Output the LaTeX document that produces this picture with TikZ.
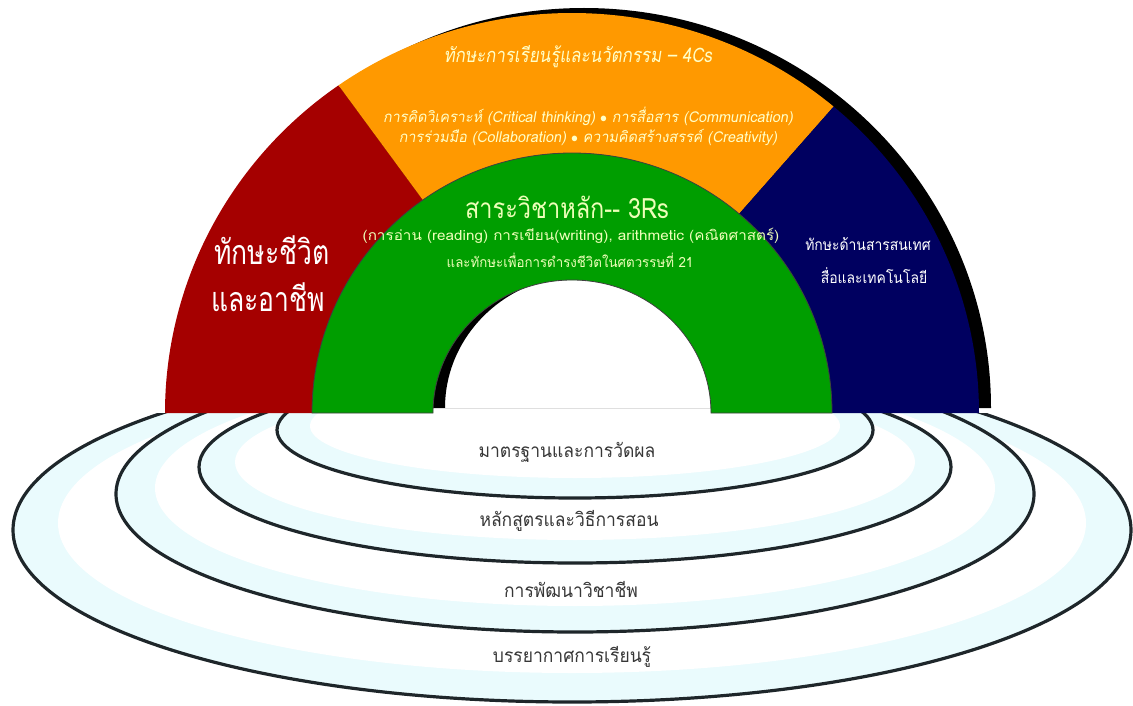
\documentclass[tikz,border=0pt]{standalone}
\usepackage{fontspec}
\usepackage{graphicx}
\usetikzlibrary{calc}
\newfontfamily\thai[Script=Thai]{Loma}
\newfontfamily\thaisl[Script=Thai,FakeSlant=0.18]{Loma}
\definecolor{rred}{RGB}{165,0,0}
\definecolor{rorange}{RGB}{255,153,0}
\definecolor{rgreen}{RGB}{0,158,0}
\definecolor{rnavy}{RGB}{0,0,96}
\definecolor{rcyan}{RGB}{234,251,253}
\definecolor{rline}{RGB}{30,38,42}
\definecolor{ltyel}{RGB}{255,255,200}
\definecolor{grtxt}{RGB}{238,255,185}
\definecolor{ringtxt}{RGB}{55,55,55}
\tikzset{
  band/.style={fill=rcyan},
  bandin/.style={fill=white},
  ringline/.style={draw=rline, line width=3.2pt},
  lbl/.style={inner sep=0pt, anchor=center},
  orgtitle/.style={lbl, text=ltyel, font=\thaisl\fontsize{20}{24}\selectfont},
  orgtext/.style={lbl, text=ltyel, font=\thaisl\fontsize{15}{17}\selectfont},
  grtitle/.style={lbl, text=grtxt, font=\thai\fontsize{28}{33}\selectfont},
  grtext/.style={lbl, text=grtxt, font=\thai\fontsize{14}{16}\selectfont},
  redtext/.style={lbl, text=white, font=\thai\fontsize{34}{40}\selectfont},
  bluetext/.style={lbl, text=white, font=\thai\fontsize{15.5}{18}\selectfont},
  ringtext/.style={lbl, text=ringtxt, font=\thai\fontsize{19}{22}\selectfont}
}
\begin{document}
\begin{tikzpicture}[x=1pt,y=-1pt]
\useasboundingbox (0,0) rectangle (1133,706);
\coordinate (C) at (572,413);
\coordinate (S) at (584,408);
% rings
\begin{scope}
\clip (0,413) rectangle (1133,706);
\fill[band] (572,530) ellipse[x radius=559, y radius=172];
\fill[bandin] (572,523) ellipse[x radius=514, y radius=150];
\draw[ringline] (572,530) ellipse[x radius=559, y radius=172];
\fill[band] (575,494) ellipse[x radius=459, y radius=138];
\fill[bandin] (575,488) ellipse[x radius=420, y radius=118];
\draw[ringline] (575,494) ellipse[x radius=459, y radius=138];
\fill[band] (575,467) ellipse[x radius=376, y radius=96];
\fill[bandin] (575,462) ellipse[x radius=340, y radius=78];
\draw[ringline] (575,467) ellipse[x radius=376, y radius=96];
\fill[band] (575,430) ellipse[x radius=298, y radius=68];
\fill[bandin] (575,426) ellipse[x radius=265, y radius=52];
\draw[ringline] (575,430) ellipse[x radius=298, y radius=68];
\end{scope}
% shadow
\fill[black, even odd rule]
  ($(S)+(180:407 and 400)$) arc[start angle=180, end angle=360, x radius=407, y radius=400] -- cycle
  ($(S)+(0:139 and 133)$) arc[start angle=360, end angle=180, x radius=139, y radius=133] -- cycle;
% sectors
\fill[rred] ($(C)+(180:407 and 400)$) arc[start angle=180, end angle=235, x radius=407, y radius=400]
  -- ($(C)+(235:260)$) arc[start angle=235, end angle=180, radius=260] -- cycle;
\fill[rorange] ($(C)+(235:407 and 400)$) arc[start angle=235, end angle=310, x radius=407, y radius=400]
  -- ($(C)+(310:260)$) arc[start angle=310, end angle=235, radius=260] -- cycle;
\fill[rnavy] ($(C)+(310:407 and 400)$) arc[start angle=310, end angle=360, x radius=407, y radius=400]
  -- ($(C)+(0:260)$) arc[start angle=360, end angle=310, radius=260] -- cycle;
\filldraw[fill=rgreen, draw=black!75, line width=0.8pt] ($(C)+(180:260)$) arc[start angle=180, end angle=360, radius=260]
  -- ($(C)+(0:139 and 133)$) arc[start angle=360, end angle=180, x radius=139, y radius=133] -- cycle;
% texts
\node[orgtitle] (t4c) at (578,57) {\scalebox{0.845}[1]{ทักษะการเรียนรู้และนวัตกรรม – 4Cs}};
\node[orgtext] (c1) at (588,116) {\scalebox{0.96}[1]{การคิดวิเคราะห์ (Critical thinking) $\bullet$ การสื่อสาร (Communication)}};
\node[orgtext] (c2) at (588,138) {\scalebox{0.96}[1]{การร่วมมือ (Collaboration) $\bullet$ ความคิดสร้างสรรค์ (Creativity)}};
\node[grtitle] (g0) at (567,207) {\scalebox{0.84}[1]{สาระวิชาหลัก-{}- 3Rs}};
\node[grtext] (g1) at (571,236) {\scalebox{1.09}[1]{(การอ่าน (reading) การเขียน(writing), arithmetic (คณิตศาสตร์)}};
\node[grtext] (g2) at (570,260) {\scalebox{0.95}[1]{และทักษะเพื่อการดำรงชีวิตในศตวรรษที่ 21}};
\node[redtext] (r1) at (272,250) {\scalebox{0.78}[1]{ทักษะชีวิต}};
\node[redtext] (r2) at (268,297) {\scalebox{0.78}[1]{และอาชีพ}};
\node[bluetext] (b1) at (868,244) {\scalebox{0.9}[1]{ทักษะด้านสารสนเทศ}};
\node[bluetext] (b2) at (874,276) {\scalebox{0.9}[1]{สื่อและเทคโนโลยี}};
\node[ringtext] (k1) at (567,452) {\scalebox{0.92}[1]{มาตรฐานและการวัดผล}};
\node[ringtext] (k2) at (569,521) {\scalebox{0.92}[1]{หลักสูตรและวิธีการสอน}};
\node[ringtext] (k3) at (571,589) {\scalebox{0.92}[1]{การพัฒนาวิชาชีพ}};
\node[ringtext] (k4) at (572,657) {\scalebox{0.92}[1]{บรรยากาศการเรียนรู้}};
\end{tikzpicture}
\end{document}
